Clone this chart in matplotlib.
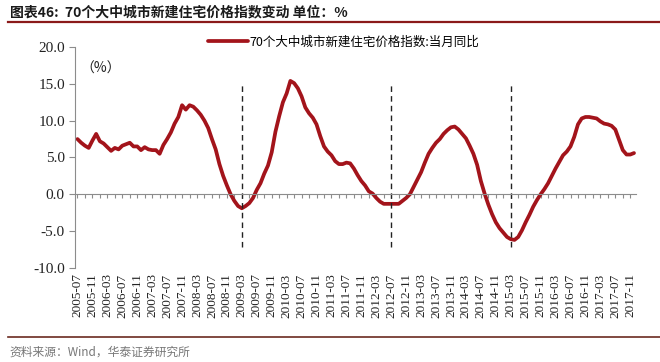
import matplotlib
matplotlib.use("Agg")
import matplotlib.pyplot as plt
import pandas as pd

plt.rcParams['font.family'] = ['Noto Sans CJK SC', 'DejaVu Sans']

# 70个大中城市新建住宅价格指数:当月同比, 2005-07 ~ 2017-12 (月度)
start_month = '2005-07'
yoy = [
    7.5, 7.0, 6.6, 6.3, 7.3, 8.2, 7.2, 6.9, 6.4, 5.9,
    6.3, 6.1, 6.6, 6.8, 7.0, 6.5, 6.5, 6.0, 6.4, 6.1,
    6.0, 6.0, 5.5, 6.7, 7.5, 8.4, 9.6, 10.5, 12.1, 11.5,
    12.1, 11.9, 11.4, 10.8, 10.0, 9.0, 7.5, 6.1, 4.1, 2.5,
    1.2, 0.0, -0.9, -1.6, -1.9, -1.6, -1.2, -0.5, 0.6, 1.5,
    2.8, 3.9, 5.7, 8.5, 10.6, 12.5, 13.7, 15.4, 15.1, 14.4,
    13.3, 11.8, 11.0, 10.4, 9.5, 7.9, 6.5, 5.8, 5.3, 4.5,
    4.1, 4.1, 4.3, 4.2, 3.5, 2.6, 1.8, 1.2, 0.4, 0.1,
    -0.5, -1.0, -1.3, -1.3, -1.3, -1.3, -1.3, -0.9, -0.5, 0.0,
    1.0, 2.0, 3.0, 4.3, 5.5, 6.3, 7.0, 7.5, 8.2, 8.7,
    9.1, 9.2, 8.8, 8.2, 7.6, 6.6, 5.5, 4.0, 1.8, 0.1,
    -1.4, -2.7, -3.8, -4.6, -5.2, -5.8, -6.1, -6.2, -5.8, -4.9,
    -3.8, -2.8, -1.7, -0.8, 0.0, 0.7, 1.5, 2.5, 3.5, 4.4,
    5.3, 5.8, 6.5, 7.8, 9.5, 10.3, 10.5, 10.5, 10.4, 10.3,
    9.9, 9.6, 9.5, 9.3, 8.8, 7.4, 6.0, 5.4, 5.4, 5.6,
]
months = pd.period_range(start_month, periods=len(yoy), freq='M')
labels = [m.strftime('%Y-%m') for m in months]
turn_points = ['2009-03', '2012-07', '2015-03']

y_ticks = [-10, -5, 0, 5, 10, 15, 20]
line_color = '#A3141B'
serif = ['Liberation Serif', 'DejaVu Serif']

fig = plt.figure(figsize=(6.6, 3.62), dpi=100)
ax = fig.add_axes([0.114, 0.260, 0.850, 0.610])

x = list(range(len(yoy)))
ax.plot(x, yoy, color=line_color, lw=2.7, solid_capstyle='round',
        label='70个大中城市新建住宅价格指数:当月同比')

turn_x = [labels.index(t) for t in turn_points]
ax.vlines(turn_x, -7.2, 15.1, colors='#222222', linestyles=(0, (4, 3)), lw=1)

ax.set_ylim(-10, 20)
ax.set_xlim(-0.6, len(yoy) - 0.4)
ax.set_yticks(y_ticks)
ax.set_yticklabels(['%.1f' % v for v in y_ticks], family=serif, fontsize=11, color='#222222')

# x axis line sits at zero, labels stay at the bottom
for s in ['top', 'right']:
    ax.spines[s].set_visible(False)
ax.spines['left'].set_color('#8c8c8c')
ax.spines['bottom'].set_position(('data', 0))
ax.spines['bottom'].set_color('#8c8c8c')
ax.set_xticks(x[::2])
ax.tick_params(axis='x', direction='out', length=3, color='#8c8c8c', labelbottom=False)
ax.tick_params(axis='y', direction='out', length=4, color='#8c8c8c')

sec = ax.secondary_xaxis(0)
sec.set_xticks(x[::4])
sec.set_xticklabels(labels[::4], rotation=90, family=serif, fontsize=9.5, color='#222222')
sec.tick_params(length=0, pad=4)
sec.spines['bottom'].set_visible(False)

fig.text(0.122, 0.800, '（%）', fontsize=10, color='#222222')

ax.legend(loc='upper left', bbox_to_anchor=(0.308, 0.915), bbox_transform=fig.transFigure,
          frameon=False, handlelength=3.2, handletextpad=0.1, borderaxespad=0,
          prop={'size': 9})

# title + rules
fig.text(0.015, 0.965, '图表46:  70个大中城市新建住宅价格指数变动 单位：%', fontsize=10,
         fontweight='bold', va='center', color='#1a1a1a')
fig.add_artist(plt.Line2D([0.012, 1.0], [0.940, 0.940], color='#8B1A1A', lw=1.6))
fig.add_artist(plt.Line2D([0.012, 1.0], [0.069, 0.069], color='#6b2a20', lw=1.2))
fig.text(0.015, 0.028, '资料来源：Wind，华泰证券研究所', fontsize=8.5, color='#777777', va='center')

fig.savefig('out.png', dpi=100)
